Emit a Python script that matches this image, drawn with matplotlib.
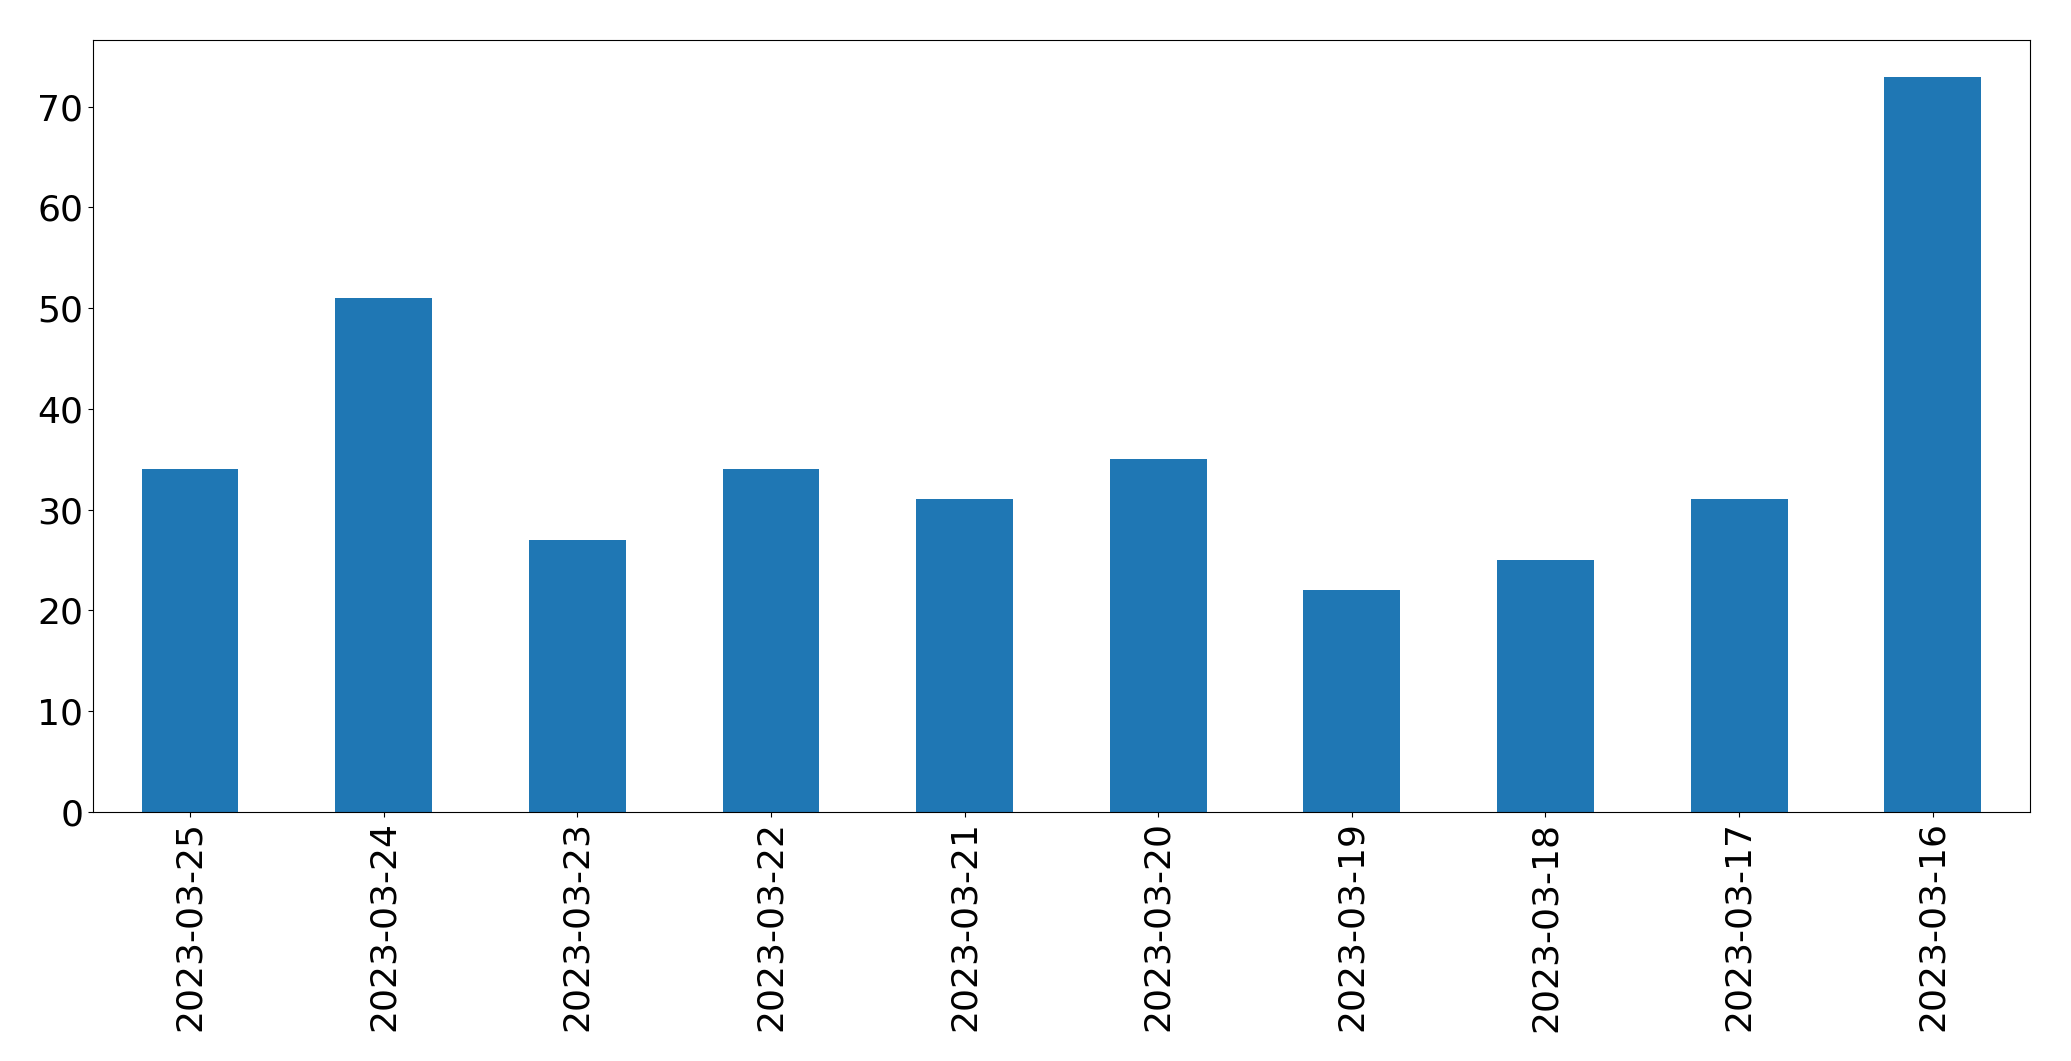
import matplotlib
matplotlib.use('Agg')
import matplotlib.pyplot as plt
import numpy as np

dates = ['2023-03-25', '2023-03-24', '2023-03-23', '2023-03-22', '2023-03-21',
         '2023-03-20', '2023-03-19', '2023-03-18', '2023-03-17', '2023-03-16']
counts = [34, 51, 27, 34, 31, 35, 22, 25, 31, 73]

fig, ax = plt.subplots(figsize=(20.71, 10.61), dpi=100)
x = np.arange(len(dates))
ax.bar(x, counts, width=0.5, color='#1f77b4')
ax.set_xticks(x)
ax.set_xticklabels(dates, rotation=90)
ax.set_xlim(-0.5, len(dates) - 0.5)
ax.tick_params(labelsize=26)
fig.subplots_adjust(left=0.045, right=0.98, top=0.9625, bottom=0.235)
plt.savefig('out.png', dpi=100)
